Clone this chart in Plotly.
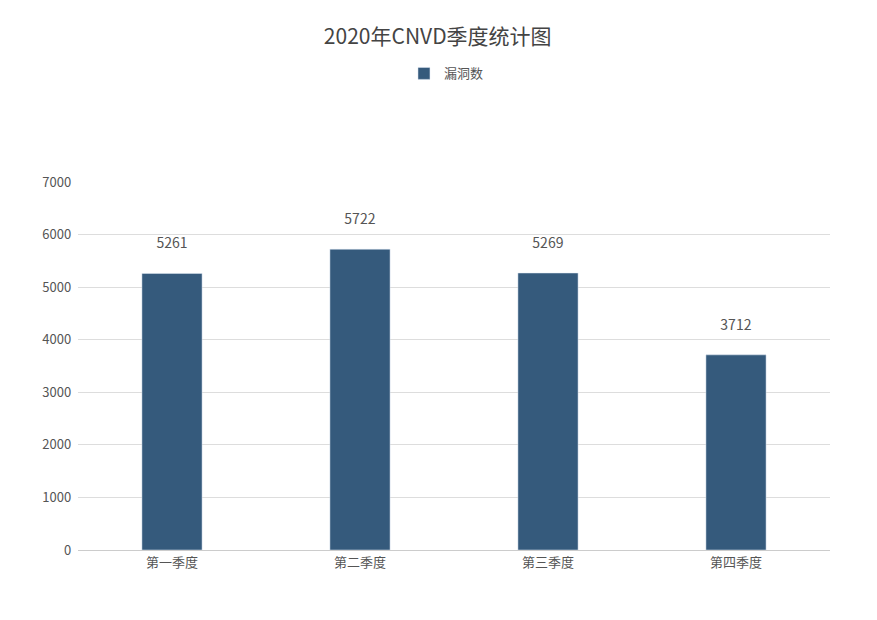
import plotly.graph_objects as go

quarters = ["第一季度", "第二季度", "第三季度", "第四季度"]
counts = [5261, 5722, 5269, 3712]

font = "Noto Sans CJK SC"

fig = go.Figure(go.Bar(
    x=quarters, y=counts, name="漏洞数",
    marker_color="#355a7c",
    text=counts, textposition="outside",
    textfont=dict(size=14, color="#555555"),
    cliponaxis=False,
))

# 数值标签离柱顶远一点
fig.update_traces(texttemplate="%{text}<br> ")

fig.update_layout(
    width=877, height=620,
    paper_bgcolor="white", plot_bgcolor="white",
    font=dict(family=font, color="#555555", size=13),
    title=dict(text="2020年CNVD季度统计图", x=0.49, y=0.965, xanchor="center",
               font=dict(size=21, color="#444444")),
    showlegend=True,
    legend=dict(orientation="h", x=0.49, y=1.295, xanchor="center", yanchor="middle",
                font=dict(size=13, color="#555555")),
    margin=dict(l=70, r=55, t=174, b=78),
    bargap=0.68,
    xaxis=dict(showline=True, linecolor="#cccccc", ticks="", tickfont=dict(size=13)),
    yaxis=dict(range=[0, 7000], dtick=1000, gridcolor="#dddddd", zeroline=False,
               tickfont=dict(size=13), ticksuffix="  "),
)

fig.write_html("out.html")
